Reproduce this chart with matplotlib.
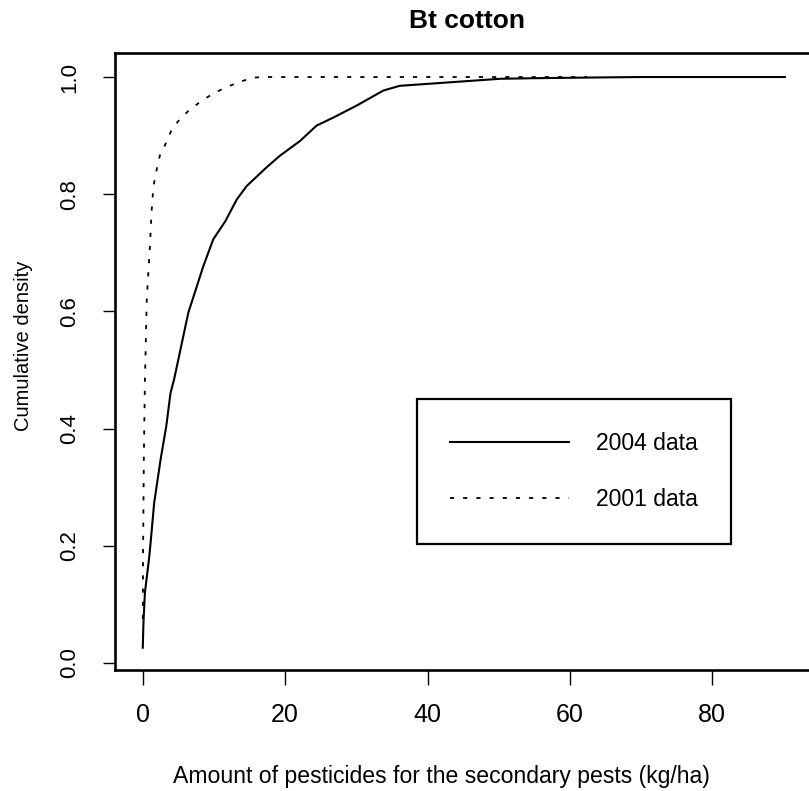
import matplotlib
matplotlib.use("Agg")
import matplotlib.pyplot as plt

plt.rcParams['font.family'] = ['Liberation Sans', 'DejaVu Sans']

# Cumulative density curves
x2004 = [0, 0.1, 0.3, 0.9, 1.1, 1.6, 2.5, 3.3, 3.9, 4.4, 5.7, 6.4, 7.6, 8.5, 9.9,
         11.6, 13.2, 14.6, 17.4, 19.3, 22.1, 24.4, 26.8, 30.0, 33.8, 36.1, 40.8,
         45.5, 50.2, 55.0, 62.0, 70.0, 83.0, 90.2]
y2004 = [0.026, 0.07, 0.12, 0.18, 0.205, 0.273, 0.347, 0.404, 0.461, 0.484, 0.558,
         0.598, 0.643, 0.677, 0.723, 0.754, 0.791, 0.814, 0.846, 0.866, 0.891,
         0.917, 0.931, 0.951, 0.977, 0.985, 0.989, 0.993, 0.997, 0.998, 0.999,
         1.0, 1.0, 1.0]

x2001 = [0, 0.05, 0.15, 0.3, 0.45, 0.56, 1.0, 1.26, 1.5, 1.97, 2.4, 3.1, 4.1, 5.2,
         6.4, 8.0, 9.9, 11.8, 13.7, 15.5, 17.0, 30.0, 45.0, 62.4]
y2001 = [0.075, 0.2, 0.35, 0.48, 0.56, 0.62, 0.711, 0.774, 0.814, 0.843, 0.866,
         0.883, 0.911, 0.928, 0.942, 0.957, 0.972, 0.983, 0.992, 0.999, 1.0,
         1.0, 1.0, 1.0]

labels = ['2004 data', '2001 data']
xticks = [0, 20, 40, 60, 80]
yticks = [0.0, 0.2, 0.4, 0.6, 0.8, 1.0]

W, H = 809, 791
fig = plt.figure(figsize=(W / 100, H / 100), dpi=100)
# axes box runs off the right edge like in the scan
ax = fig.add_axes([115 / W, (H - 670) / H, 749 / W, 617 / H])

l1, = ax.plot(x2004, y2004, color='black', lw=1.5)
l2, = ax.plot(x2001, y2001, color='black', lw=1.3, ls=(0, (2.3, 5.0)))

ax.set_xlim(-3.9, 101.3)
ax.set_ylim(-0.012, 1.041)

ax.set_xticks(xticks)
ax.set_xticklabels([str(t) for t in xticks], fontsize=18)
ax.set_yticks(yticks)
ax.set_yticklabels(['%.1f' % t for t in yticks], fontsize=16, rotation=90, va='center')
ax.tick_params(axis='x', direction='out', length=11, width=1.0, pad=13)
ax.tick_params(axis='y', direction='out', length=9, width=1.0, pad=16)

for s in ax.spines.values():
    s.set_linewidth(1.9)

leg = ax.legend([l1, l2], labels, loc='upper left', bbox_to_anchor=(38.5, 0.451),
                bbox_transform=ax.transData, borderaxespad=0, fontsize=16.5,
                handlelength=5.2, handletextpad=1.15, borderpad=1.45,
                labelspacing=1.45, fancybox=False, framealpha=1)
leg.get_frame().set_edgecolor('black')
leg.get_frame().set_linewidth(1.6)

fig.text(467 / W, 1 - 21 / H, 'Bt cotton', fontsize=19, fontweight='bold',
         ha='center', va='center')
fig.text(441 / W, 1 - 777 / H, 'Amount of pesticides for the secondary pests (kg/ha)',
         fontsize=16.6, ha='center', va='center')
fig.text(24 / W, 1 - 346 / H, 'Cumulative density', fontsize=14.5, rotation=90,
         ha='center', va='center')

fig.savefig('out.png', dpi=100)
